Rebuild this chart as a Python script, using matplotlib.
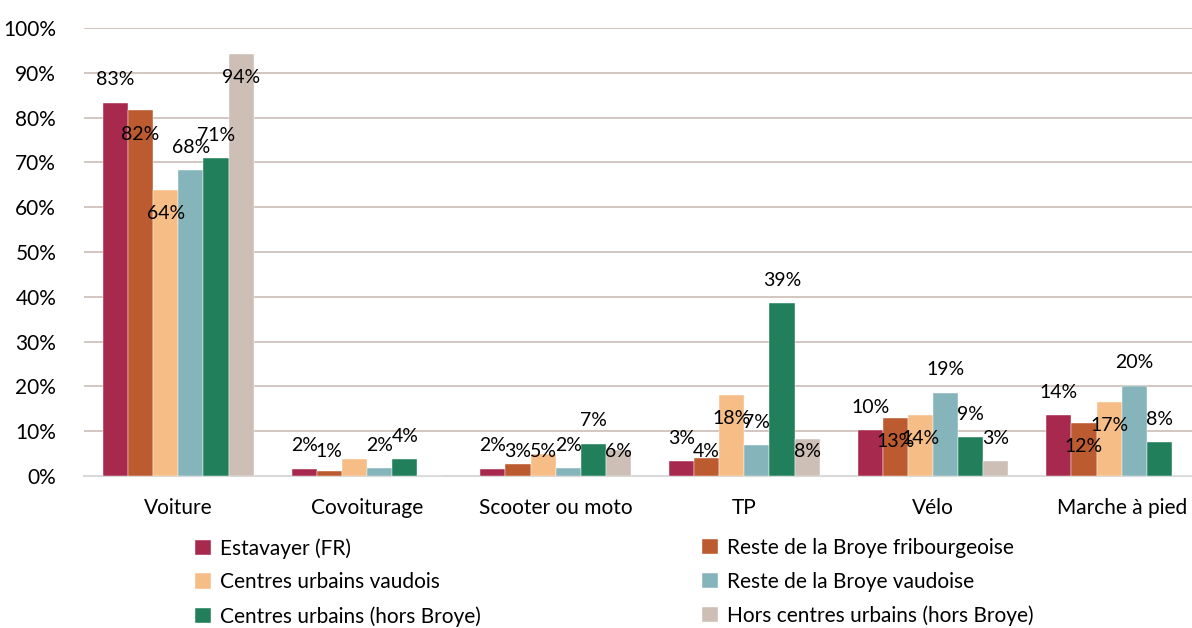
import numpy as np
import matplotlib
matplotlib.use("Agg")
import matplotlib.pyplot as plt

plt.rcParams['font.family'] = ['Lato', 'DejaVu Sans']

# --- data (share in %) ---
categories = ["Voiture", "Covoiturage", "Scooter ou moto", "TP", "Vélo", "Marche à pied"]
series = ["Estavayer (FR)", "Reste de la Broye fribourgeoise",
          "Centres urbains vaudois", "Reste de la Broye vaudoise",
          "Centres urbains (hors Broye)", "Hors centres urbains (hors Broye)"]
estavayer    = [83.3, 1.6, 1.6, 3.3, 10.2, 13.6]
reste_fr     = [81.6, 1.2, 2.6, 4.1, 13.0, 11.8]
centres_vd   = [63.8, 3.8, 5.0, 18.1, 13.7, 16.6]
reste_vd     = [68.3, 1.7, 1.7, 6.9, 18.6, 20.2]
centres_hors = [71.0, 3.7, 7.2, 38.6, 8.6, 7.6]
hors_centres = [94.2, 0.0, 5.8, 8.2, 3.3, 0.0]
values = [estavayer, reste_fr, centres_vd, reste_vd, centres_hors, hors_centres]
# labels that are absent in the original (series index, category index)
no_label = {(2, 1), (5, 1), (5, 5)}

# label placement: +1 above bar top, -1 inside below top
label_side = [
    [1, 1, 1, 1, 1, 1],
    [-1, -1, -1, -1, -1, -1],
    [-1, 1, -1, -1, -1, -1],
    [1, 1, 1, 1, 1, 1],
    [1, 1, 1, 1, 1, 1],
    [-1, 1, -1, -1, 1, 1],
]

colors = ["#A8294E", "#BC5A30", "#F6BD86", "#85B5BA", "#21805B", "#CDBEB6"]

fig = plt.figure(figsize=(11.92, 6.28), dpi=100)
ax = fig.add_axes([84/1192, 1 - 476/628, 1132/1192, 448/628])

x = np.arange(len(categories))
w = 0.8 / len(series)
handles = []
for i, (name, vals) in enumerate(zip(series, values)):
    xs = x + (i - 2.5) * w
    b = ax.bar(xs, vals, width=w, color=colors[i], label=name, zorder=3,
               edgecolor="white", linewidth=0.3)
    handles.append(b)
    for j, v in enumerate(vals):
        if (i, j) in no_label:
            continue
        if label_side[i][j] > 0:
            ty = v + 5.1
        else:
            ty = max(v - 5.3, 5.4)
        ax.text(xs[j], ty, f"{round(v)}%", ha="center", va="center",
                fontsize=14, color="black", zorder=4)

ax.set_xlim(-0.5, 5.5)
ax.set_ylim(0, 100)
ax.set_yticks(np.arange(0, 101, 10))
ax.set_yticklabels([f"{t}%" for t in range(0, 101, 10)])
ax.set_xticks(x)
ax.set_xticklabels(categories)
ax.tick_params(axis="both", length=0, labelsize=15, colors="black")
ax.tick_params(axis="y", pad=20)
ax.tick_params(axis="x", pad=16)
ax.yaxis.grid(True, color="#D3C5BF", linewidth=1.4, zorder=0)
ax.set_axisbelow(True)
for s in ["top", "right", "left"]:
    ax.spines[s].set_visible(False)
ax.spines["bottom"].set_color("#D9D9D9")
ax.spines["bottom"].set_linewidth(1.5)
ax.spines["bottom"].set_zorder(2)

leg_kw = dict(frameon=False, fontsize=15, handlelength=0.75, handleheight=0.75,
              handletextpad=0.45, labelspacing=0.66, borderaxespad=0, borderpad=0)
fig.legend(handles[0::2], series[0::2], loc="upper left",
           bbox_to_anchor=(195/1192, 1 - 538/628), **leg_kw)
fig.legend(handles[1::2], series[1::2], loc="upper left",
           bbox_to_anchor=(702/1192, 1 - 538/628), **leg_kw)

fig.savefig("out.png", dpi=100)
